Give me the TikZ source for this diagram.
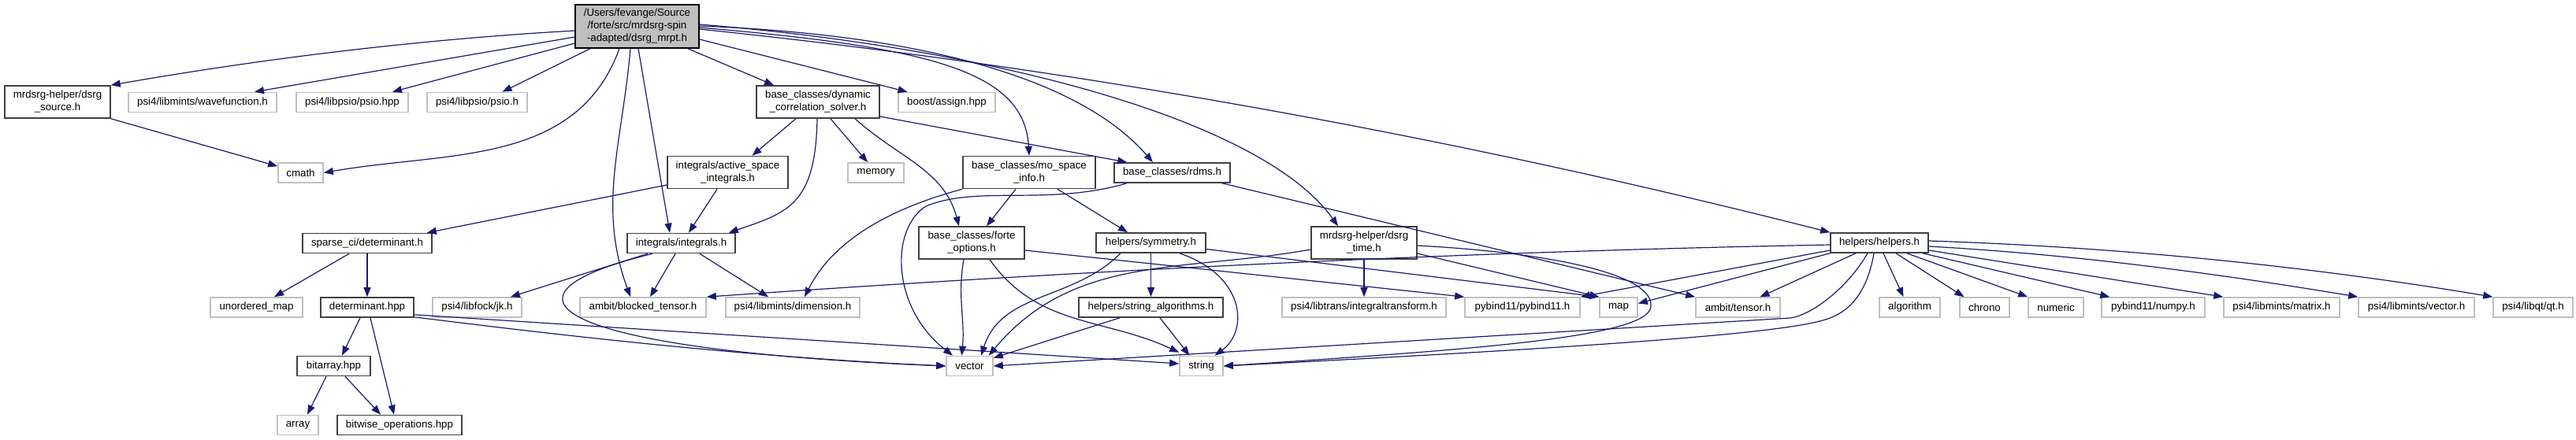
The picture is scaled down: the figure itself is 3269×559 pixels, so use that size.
\documentclass[tikz,border=0pt]{standalone}
\usepackage{fontspec}
\setmainfont{Liberation Sans}
\usetikzlibrary{arrows.meta}
\definecolor{depEdge}{RGB}{25,25,112}
\definecolor{depGray}{RGB}{191,191,191}
\definecolor{depInk}{RGB}{64,64,64}

\begin{document}
\begin{tikzpicture}[x=1pt, y=-1pt,
      filebox/.style={rectangle, inner sep=0pt, line width=1.6pt, fill=white, align=center,
      font=\fontsize{13.3}{16}\selectfont},
      hdr/.style={filebox, draw=depInk},
      sys/.style={filebox, draw=depGray},
      rootbox/.style={filebox, draw=black, fill=depGray},
      one/.style={minimum height=25pt},
      two/.style={minimum height=41pt},
      dep/.style={-{Triangle[length=12pt, width=9pt]}, line width=1.2pt, draw=depEdge}
    ]
    \useasboundingbox (0,0) rectangle (3269,559);

    \node[rootbox, minimum width=157pt, minimum height=55pt] (root) at (808.5,33.5) {/Users/fevange/Source\\/forte/src/mrdsrg-spin\\-adapted/dsrg\_mrpt.h};

    \node[hdr, two, minimum width=134pt] (dsrgsource) at (73,129.5) {mrdsrg-helper/dsrg\\\_source.h};
    \node[sys, one, minimum width=188pt] (wavefunction) at (257,130) {psi4/libmints/wavefunction.h};
    \node[sys, one, minimum width=142pt] (psiohpp) at (447,130) {psi4/libpsio/psio.hpp};
    \node[sys, one, minimum width=127pt] (psioh) at (605.5,130) {psi4/libpsio/psio.h};
    \node[hdr, two, minimum width=156pt] (dynsolver) at (1038,129.5) {base\_classes/dynamic\\\_correlation\_solver.h};
    \node[sys, one, minimum width=123pt] (assign) at (1201.5,130) {boost/assign.hpp};

    \node[sys, one, minimum width=57pt] (cmath) at (381.5,219.5) {cmath};
    \node[hdr, two, minimum width=153pt] (activespace) at (923.5,219) {integrals/active\_space\\\_integrals.h};
    \node[sys, one, minimum width=71pt] (memory) at (1111.5,219.5) {memory};
    \node[hdr, two, minimum width=168pt] (mospace) at (1306,219) {base\_classes/mo\_space\\\_info.h};
    \node[hdr, one, minimum width=147pt] (rdms) at (1487.5,219.5) {base\_classes/rdms.h};

    \node[hdr, one, minimum width=164pt] (sparseci) at (466,309) {sparse\_ci/determinant.h};
    \node[hdr, one, minimum width=137pt] (integrals) at (864.5,309) {integrals/integrals.h};
    \node[hdr, two, minimum width=134pt] (forteopts) at (1233,308.5) {base\_classes/forte\\\_options.h};
    \node[hdr, one, minimum width=139pt] (symmetry) at (1460.5,308.5) {helpers/symmetry.h};
    \node[hdr, two, minimum width=134pt] (dsrgtime) at (1731,308.5) {mrdsrg-helper/dsrg\\\_time.h};
    \node[hdr, one, minimum width=124pt] (helpers) at (2385,308.5) {helpers/helpers.h};

    \node[sys, one, minimum width=117pt] (unorderedmap) at (325.5,390.5) {unordered\_map};
    \node[hdr, one, minimum width=118pt] (dethpp) at (466,390.5) {determinant.hpp};
    \node[sys, one, minimum width=113pt] (jk) at (605.5,390.5) {psi4/libfock/jk.h};
    \node[sys, one, minimum width=160pt] (blocked) at (816,390.5) {ambit/blocked\_tensor.h};
    \node[sys, one, minimum width=170pt] (dimension) at (1006,390.5) {psi4/libmints/dimension.h};
    \node[hdr, one, minimum width=183pt] (stralgo) at (1460.5,390.5) {helpers/string\_algorithms.h};
    \node[sys, one, minimum width=208pt] (inttrans) at (1731,390.5) {psi4/libtrans/integraltransform.h};
    \node[sys, one, minimum width=146pt] (pybind) at (1932,390.5) {pybind11/pybind11.h};
    \node[sys, one, minimum width=48pt] (map) at (2054,390.5) {map};
    \node[sys, one, minimum width=107pt] (tensor) at (2205.5,390.5) {ambit/tensor.h};
    \node[sys, one, minimum width=77pt] (algorithm) at (2423.5,390.5) {algorithm};
    \node[sys, one, minimum width=63pt] (chrono) at (2518.5,390.5) {chrono};
    \node[sys, one, minimum width=70pt] (numeric) at (2609,390.5) {numeric};
    \node[sys, one, minimum width=131pt] (numpy) at (2732.5,390.5) {pybind11/numpy.h};
    \node[sys, one, minimum width=147pt] (matrix) at (2895.5,390.5) {psi4/libmints/matrix.h};
    \node[sys, one, minimum width=147pt] (vectorh) at (3066.5,390.5) {psi4/libmints/vector.h};
    \node[sys, one, minimum width=101pt] (qt) at (3214.5,390.5) {psi4/libqt/qt.h};

    \node[hdr, one, minimum width=93pt] (bitarray) at (423.5,465) {bitarray.hpp};
    \node[sys, one, minimum width=59pt] (vector) at (1230.5,465) {vector};
    \node[sys, one, minimum width=55pt] (string) at (1524.5,465) {string};

    \node[sys, one, minimum width=52pt] (array) at (378,540) {array};
    \node[hdr, one, minimum width=158pt] (bitwise) at (507,540) {bitwise\_operations.hpp};

    \draw[dep] ([yshift=-5.5pt]root.west) .. controls (533,50) and (337,74) .. (dsrgsource.north east);
    \draw[dep] ([yshift=-13.5pt]root.west) -- ([xshift=66pt]wavefunction.north);
    \draw[dep] ([yshift=-21.5pt]root.west) -- ([xshift=51pt]psiohpp.north);
    \draw[dep] ([xshift=-59.5pt]root.south) -- ([xshift=32pt]psioh.north);
    \draw[dep] ([xshift=-22.5pt]root.south) to[out=-110, in=10] (cmath.east);
    \draw[dep] ([xshift=-8.5pt]root.south) to[out=-95, in=110] ([xshift=-16pt]blocked.north);
    \draw[dep] ([xshift=1.5pt]root.south) -- ([xshift=-14.5pt]integrals.north);
    \draw[dep] ([xshift=64.5pt]root.south) -- ([xshift=-56pt]dynsolver.north);
    \draw[dep] ([yshift=-16.5pt]root.east) -- ([xshift=-50pt]assign.north);
    \draw[dep] ([yshift=-1.5pt]root.east) .. controls (1180,60) and (1300,90) .. (mospace.north);
    \draw[dep] ([yshift=0.5pt]root.east) .. controls (1200,45) and (1380,110) .. ([xshift=-24.5pt]rdms.north);
    \draw[dep] ([yshift=2.5pt]root.east) .. controls (1250,60) and (1600,150) .. ([xshift=-33pt]dsrgtime.north);
    \draw[dep] ([yshift=-3.5pt]root.east) .. controls (1360,86) and (1838,172) .. (helpers.north west);

    \draw[dep] (dsrgsource.south east) -- ([yshift=-5pt]cmath.north west);

    \draw[dep] ([xshift=-28pt]dynsolver.south) -- ([xshift=31pt]activespace.north);
    \draw[dep] ([xshift=-1pt]dynsolver.south) .. controls (1035,260) and (1000,270) .. ([xshift=-9pt]integrals.north east);
    \draw[dep] ([xshift=16pt]dynsolver.south) -- ([xshift=-10.5pt]memory.north);
    \draw[dep] ([xshift=47pt]dynsolver.south) to[out=-42, in=105] ([xshift=-16pt]forteopts.north);
    \draw[dep] ([yshift=-18.5pt]dynsolver.east) -- ([xshift=17pt]rdms.north west);

    \draw[dep] ([yshift=-16pt]activespace.west) -- ([xshift=-7pt]sparseci.north east);
    \draw[dep] ([xshift=-13.5pt]activespace.south) -- ([xshift=9.5pt]integrals.north);

    \draw[dep] ([xshift=-17pt]mospace.south) -- ([xshift=19pt]forteopts.north);
    \draw[dep] ([xshift=36pt]mospace.south) -- ([xshift=-29.5pt]symmetry.north);
    \draw[dep] (mospace.south west) .. controls (1140,262) and (1060,300) .. ([xshift=15pt]dimension.north);

    \draw[dep] ([xshift=63.5pt]rdms.south) -- (tensor.north west);
    \draw[dep] ([xshift=-57.5pt]rdms.south) .. controls (1330,262) and (1240,235) .. (1175,262)
      .. controls (1130,290) and (1130,390) .. ([xshift=-21.5pt]vector.north);

    \draw[dep] (symmetry.south) -- (stralgo.north);
    \draw[dep] ([xshift=-38.5pt]symmetry.south) to[out=-135, in=72] ([xshift=14.5pt]vector.north);
    \draw[dep] ([xshift=36.5pt]symmetry.south) .. controls (1580,350) and (1585,420) .. ([xshift=17pt]string.north);
    \draw[dep] ([yshift=-8pt]symmetry.east) -- (map.north west);

    \draw[dep] ([xshift=-39.5pt]stralgo.south) -- ([yshift=-3pt]vector.north east);
    \draw[dep] ([xshift=11.5pt]stralgo.south) -- ([xshift=-15pt]string.north);

    \draw[dep] ([xshift=-10pt]forteopts.south) to[out=-100, in=85] ([xshift=-10pt]vector.north);
    \draw[dep] ([xshift=23pt]forteopts.south) to[out=-55, in=155] ([yshift=4pt]string.north west);
    \draw[dep] ([yshift=-9.5pt]forteopts.east) -- (pybind.north west);

    \draw[dep] (dsrgtime.south) -- (inttrans.north);
    \draw[dep] ([yshift=-13.5pt]dsrgtime.east) -- (map.north west);
    \draw[dep] ([yshift=-3.5pt]dsrgtime.east) .. controls (1950,320) and (2100,345) .. (2095,390)
      .. controls (2090,430) and (1850,445) .. (string.east);
    \draw[dep] ([yshift=-8.5pt]dsrgtime.west) .. controls (1500,346) and (1362,323) .. ([xshift=-6pt]vector.north east);

    \draw[dep] ([yshift=-2.5pt]helpers.west) .. controls (1847,320) and (1372,344) .. (blocked.north east);
    \draw[dep] ([yshift=-9.5pt]helpers.west) -- (pybind.north east);
    \draw[dep] (helpers.south west) -- ([yshift=5pt]map.east);
    \draw[dep] ([xshift=-30pt]helpers.south) -- ([xshift=28pt]tensor.north);
    \draw[dep] ([xshift=5pt]helpers.south) -- ([xshift=-8pt]algorithm.north);
    \draw[dep] ([xshift=21pt]helpers.south) -- ([xshift=-26pt]chrono.north);
    \draw[dep] ([xshift=35pt]helpers.south) -- (numeric.north west);
    \draw[dep] ([xshift=55pt]helpers.south) -- ([xshift=11pt]numpy.north west);
    \draw[dep] ([yshift=-9.5pt]helpers.east) -- (matrix.north west);
    \draw[dep] ([yshift=-4.5pt]helpers.east) .. controls (2629,323) and (2811,347) .. (vectorh.north west);
    \draw[dep] ([yshift=2.5pt]helpers.east) .. controls (2690,314) and (2929,338) .. (qt.north west);
    \draw[dep] ([xshift=-15pt]helpers.south) .. controls (2345,365) and (2300,400) .. (2272,404) -- (vector.east);
    \draw[dep] ([xshift=-7pt]helpers.south) .. controls (2368,380) and (2340,400) .. (2313,407)
      .. controls (2250,425) and (2000,442) .. (string.east);

    \draw[dep] ([xshift=-42.5pt]integrals.south) -- ([xshift=-15pt]jk.north east);
    \draw[dep] ([xshift=-7.5pt]integrals.south) -- ([xshift=9pt]blocked.north);
    \draw[dep] ([xshift=23.5pt]integrals.south) -- ([xshift=-31pt]dimension.north);
    \draw[dep] ([xshift=-36.5pt]integrals.south) .. controls (600,378) and (710,445) .. (vector.west);

    \draw[dep] ([xshift=-23pt]sparseci.south) -- ([xshift=22.5pt]unorderedmap.north);
    \draw[dep] (sparseci.south) -- (dethpp.north);

    \draw[dep] ([xshift=-9pt]dethpp.south) -- ([xshift=10.5pt]bitarray.north);
    \draw[dep] ([xshift=4pt]dethpp.south) -- ([xshift=-7pt]bitwise.north);
    \draw[dep] ([yshift=1pt]dethpp.south east) .. controls (750,431) and (975,455) .. (vector.west);
    \draw[dep] ([yshift=4pt]dethpp.south east) -- ([yshift=3pt]string.west);

    \draw[dep] ([xshift=-9.5pt]bitarray.south) -- ([xshift=12pt]array.north);
    \draw[dep] ([xshift=14.5pt]bitarray.south) -- ([xshift=-24pt]bitwise.north);
  \end{tikzpicture}
\end{document}
